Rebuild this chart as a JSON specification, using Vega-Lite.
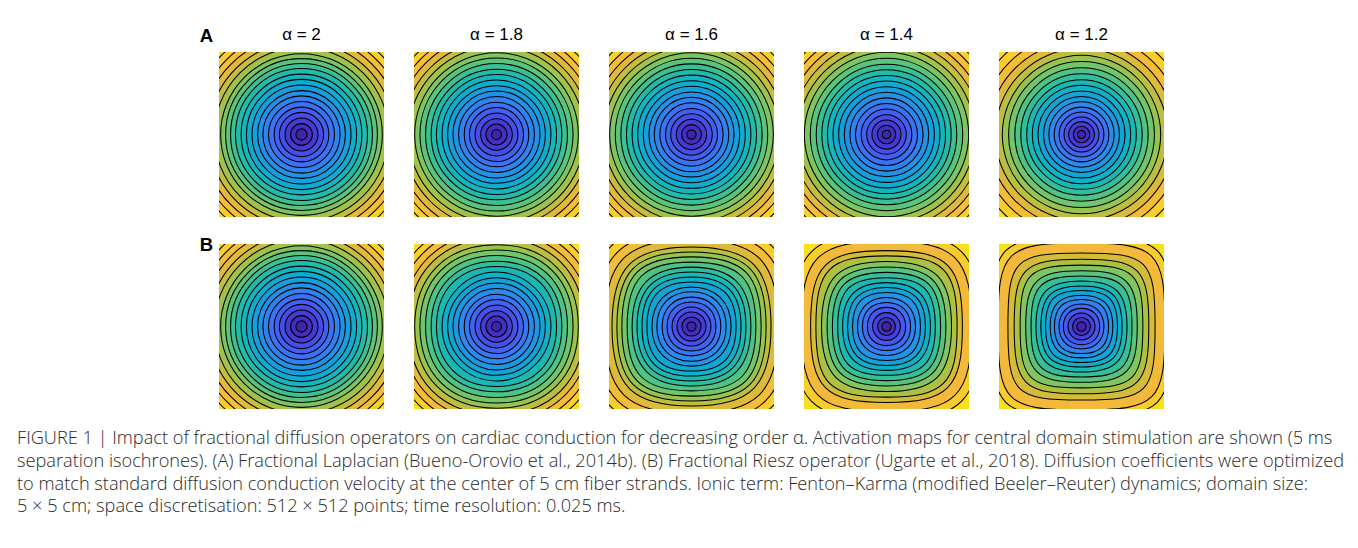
{
"$schema":"https://vega.github.io/schema/vega-lite/v6.json",
"padding":{"left":17,"top":25,"right":10,"bottom":10},
"background":"white",
"title":{"text":["FIGURE 1 | Impact of fractional diffusion operators on cardiac conduction for decreasing order α. Activation maps for central domain stimulation are shown (5 ms","separation isochrones). (A) Fractional Laplacian (Bueno-Orovio et al., 2014b). (B) Fractional Riesz operator (Ugarte et al., 2018). Diffusion coefficients were optimized","to match standard diffusion conduction velocity at the center of 5 cm fiber strands. Ionic term: Fenton–Karma (modified Beeler–Reuter) dynamics; domain size:","5 × 5 cm; space discretisation: 512 × 512 points; time resolution: 0.025 ms."],"orient":"bottom","anchor":"start","frame":"group","dx":-202,"offset":21,"font":"Open Sans","fontSize":18.2,"fontWeight":300,"color":"#2a2a2a","lineHeight":22.8},
"data":{"values":[
{"g":"A","alpha":2,"p":"2","r":1.7,"f":0},{"g":"A","alpha":2,"p":"2","r":3.3,"f":0.05},{"g":"A","alpha":2,"p":"2","r":5.0,"f":0.1},{"g":"A","alpha":2,"p":"2","r":6.7,"f":0.15},{"g":"A","alpha":2,"p":"2","r":8.3,"f":0.2},{"g":"A","alpha":2,"p":"2","r":10.0,"f":0.25},{"g":"A","alpha":2,"p":"2","r":11.7,"f":0.3},{"g":"A","alpha":2,"p":"2","r":13.3,"f":0.35},{"g":"A","alpha":2,"p":"2","r":15.0,"f":0.4},{"g":"A","alpha":2,"p":"2","r":16.7,"f":0.45},{"g":"A","alpha":2,"p":"2","r":18.3,"f":0.5},{"g":"A","alpha":2,"p":"2","r":20.0,"f":0.55},{"g":"A","alpha":2,"p":"2","r":21.5,"f":0.6},{"g":"A","alpha":2,"p":"2","r":23.0,"f":0.65},{"g":"A","alpha":2,"p":"2","r":24.5,"f":0.7},{"g":"A","alpha":2,"p":"2","r":26.4,"f":0.75},{"g":"A","alpha":2,"p":"2","r":28.2,"f":0.8},{"g":"A","alpha":2,"p":"2","r":30.2,"f":0.85},{"g":"A","alpha":2,"p":"2","r":32.1,"f":0.9},{"g":"A","alpha":2,"p":"2","r":34.1,"f":0.95},{"g":"A","alpha":2,"p":"2","r":39.4,"f":1},
{"g":"A","alpha":1.8,"p":"2","r":1.5,"f":0},{"g":"A","alpha":1.8,"p":"2","r":3.2,"f":0.05},{"g":"A","alpha":1.8,"p":"2","r":4.8,"f":0.1},{"g":"A","alpha":1.8,"p":"2","r":6.5,"f":0.15},{"g":"A","alpha":1.8,"p":"2","r":8.2,"f":0.2},{"g":"A","alpha":1.8,"p":"2","r":9.8,"f":0.25},{"g":"A","alpha":1.8,"p":"2","r":11.5,"f":0.3},{"g":"A","alpha":1.8,"p":"2","r":13.2,"f":0.35},{"g":"A","alpha":1.8,"p":"2","r":14.8,"f":0.4},{"g":"A","alpha":1.8,"p":"2","r":16.5,"f":0.45},{"g":"A","alpha":1.8,"p":"2","r":18.2,"f":0.5},{"g":"A","alpha":1.8,"p":"2","r":19.8,"f":0.55},{"g":"A","alpha":1.8,"p":"2","r":21.5,"f":0.6},{"g":"A","alpha":1.8,"p":"2","r":23.2,"f":0.65},{"g":"A","alpha":1.8,"p":"2","r":24.8,"f":0.7},{"g":"A","alpha":1.8,"p":"2","r":26.7,"f":0.75},{"g":"A","alpha":1.8,"p":"2","r":28.5,"f":0.8},{"g":"A","alpha":1.8,"p":"2","r":30.5,"f":0.85},{"g":"A","alpha":1.8,"p":"2","r":32.4,"f":0.9},{"g":"A","alpha":1.8,"p":"2","r":34.4,"f":0.95},{"g":"A","alpha":1.8,"p":"2","r":39.4,"f":1},
{"g":"A","alpha":1.6,"p":"2","r":1.4,"f":0},{"g":"A","alpha":1.6,"p":"2","r":3.0,"f":0.05},{"g":"A","alpha":1.6,"p":"2","r":4.6,"f":0.1},{"g":"A","alpha":1.6,"p":"2","r":6.3,"f":0.15},{"g":"A","alpha":1.6,"p":"2","r":7.9,"f":0.2},{"g":"A","alpha":1.6,"p":"2","r":9.6,"f":0.25},{"g":"A","alpha":1.6,"p":"2","r":11.3,"f":0.3},{"g":"A","alpha":1.6,"p":"2","r":12.9,"f":0.35},{"g":"A","alpha":1.6,"p":"2","r":14.6,"f":0.4},{"g":"A","alpha":1.6,"p":"2","r":16.3,"f":0.45},{"g":"A","alpha":1.6,"p":"2","r":18.0,"f":0.5},{"g":"A","alpha":1.6,"p":"2","r":19.7,"f":0.55},{"g":"A","alpha":1.6,"p":"2","r":21.4,"f":0.6},{"g":"A","alpha":1.6,"p":"2","r":23.1,"f":0.65},{"g":"A","alpha":1.6,"p":"2","r":24.8,"f":0.7},{"g":"A","alpha":1.6,"p":"2","r":26.6,"f":0.75},{"g":"A","alpha":1.6,"p":"2","r":28.5,"f":0.8},{"g":"A","alpha":1.6,"p":"2","r":30.5,"f":0.85},{"g":"A","alpha":1.6,"p":"2","r":32.5,"f":0.9},{"g":"A","alpha":1.6,"p":"2","r":34.6,"f":0.95},{"g":"A","alpha":1.6,"p":"2","r":39.4,"f":1},
{"g":"A","alpha":1.4,"p":"2","r":1.3,"f":0},{"g":"A","alpha":1.4,"p":"2","r":2.8,"f":0.05},{"g":"A","alpha":1.4,"p":"2","r":4.4,"f":0.1},{"g":"A","alpha":1.4,"p":"2","r":6.0,"f":0.15},{"g":"A","alpha":1.4,"p":"2","r":7.7,"f":0.2},{"g":"A","alpha":1.4,"p":"2","r":9.4,"f":0.25},{"g":"A","alpha":1.4,"p":"2","r":11.1,"f":0.3},{"g":"A","alpha":1.4,"p":"2","r":12.8,"f":0.35},{"g":"A","alpha":1.4,"p":"2","r":14.5,"f":0.4},{"g":"A","alpha":1.4,"p":"2","r":16.2,"f":0.45},{"g":"A","alpha":1.4,"p":"2","r":17.9,"f":0.5},{"g":"A","alpha":1.4,"p":"2","r":19.6,"f":0.55},{"g":"A","alpha":1.4,"p":"2","r":21.3,"f":0.6},{"g":"A","alpha":1.4,"p":"2","r":23.1,"f":0.65},{"g":"A","alpha":1.4,"p":"2","r":24.9,"f":0.7},{"g":"A","alpha":1.4,"p":"2","r":26.8,"f":0.75},{"g":"A","alpha":1.4,"p":"2","r":28.8,"f":0.8},{"g":"A","alpha":1.4,"p":"2","r":30.8,"f":0.85},{"g":"A","alpha":1.4,"p":"2","r":32.9,"f":0.9},{"g":"A","alpha":1.4,"p":"2","r":35.0,"f":0.95},{"g":"A","alpha":1.4,"p":"2","r":39.4,"f":1},
{"g":"A","alpha":1.2,"p":"2","r":1.2,"f":0},{"g":"A","alpha":1.2,"p":"2","r":2.5,"f":0.053},{"g":"A","alpha":1.2,"p":"2","r":3.9,"f":0.105},{"g":"A","alpha":1.2,"p":"2","r":5.3,"f":0.158},{"g":"A","alpha":1.2,"p":"2","r":6.8,"f":0.211},{"g":"A","alpha":1.2,"p":"2","r":8.3,"f":0.263},{"g":"A","alpha":1.2,"p":"2","r":9.9,"f":0.316},{"g":"A","alpha":1.2,"p":"2","r":11.5,"f":0.368},{"g":"A","alpha":1.2,"p":"2","r":13.2,"f":0.421},{"g":"A","alpha":1.2,"p":"2","r":14.9,"f":0.474},{"g":"A","alpha":1.2,"p":"2","r":16.6,"f":0.526},{"g":"A","alpha":1.2,"p":"2","r":18.4,"f":0.579},{"g":"A","alpha":1.2,"p":"2","r":20.2,"f":0.632},{"g":"A","alpha":1.2,"p":"2","r":22.1,"f":0.684},{"g":"A","alpha":1.2,"p":"2","r":24.0,"f":0.737},{"g":"A","alpha":1.2,"p":"2","r":26.1,"f":0.789},{"g":"A","alpha":1.2,"p":"2","r":28.4,"f":0.842},{"g":"A","alpha":1.2,"p":"2","r":30.9,"f":0.895},{"g":"A","alpha":1.2,"p":"2","r":33.6,"f":0.947},{"g":"A","alpha":1.2,"p":"2","r":39.4,"f":1},
{"g":"B","alpha":2,"p":"2","r":1.7,"f":0},{"g":"B","alpha":2,"p":"2","r":3.3,"f":0.05},{"g":"B","alpha":2,"p":"2","r":5.0,"f":0.1},{"g":"B","alpha":2,"p":"2","r":6.7,"f":0.15},{"g":"B","alpha":2,"p":"2","r":8.3,"f":0.2},{"g":"B","alpha":2,"p":"2","r":10.0,"f":0.25},{"g":"B","alpha":2,"p":"2","r":11.7,"f":0.3},{"g":"B","alpha":2,"p":"2","r":13.3,"f":0.35},{"g":"B","alpha":2,"p":"2","r":15.0,"f":0.4},{"g":"B","alpha":2,"p":"2","r":16.7,"f":0.45},{"g":"B","alpha":2,"p":"2","r":18.3,"f":0.5},{"g":"B","alpha":2,"p":"2","r":20.0,"f":0.55},{"g":"B","alpha":2,"p":"2","r":21.5,"f":0.6},{"g":"B","alpha":2,"p":"2","r":23.0,"f":0.65},{"g":"B","alpha":2,"p":"2","r":24.5,"f":0.7},{"g":"B","alpha":2,"p":"2","r":26.4,"f":0.75},{"g":"B","alpha":2,"p":"2","r":28.2,"f":0.8},{"g":"B","alpha":2,"p":"2","r":30.2,"f":0.85},{"g":"B","alpha":2,"p":"2","r":32.1,"f":0.9},{"g":"B","alpha":2,"p":"2","r":34.1,"f":0.95},{"g":"B","alpha":2,"p":"2","r":39.4,"f":1},
{"g":"B","alpha":1.8,"p":"2","r":1.5,"f":0},{"g":"B","alpha":1.8,"p":"2","r":3.2,"f":0.053},{"g":"B","alpha":1.8,"p":"2","r":4.8,"f":0.105},{"g":"B","alpha":1.8,"p":"2","r":6.5,"f":0.158},{"g":"B","alpha":1.8,"p":"2","r":8.2,"f":0.211},{"g":"B","alpha":1.8,"p":"2","r":9.8,"f":0.263},{"g":"B","alpha":1.8,"p":"2","r":11.5,"f":0.316},{"g":"B","alpha":1.8,"p":"2","r":13.2,"f":0.368},{"g":"B","alpha":1.8,"p":"2","r":14.8,"f":0.421},{"g":"B","alpha":1.8,"p":"2","r":16.5,"f":0.474},{"g":"B","alpha":1.8,"p":"2.2","r":18.2,"f":0.526},{"g":"B","alpha":1.8,"p":"2.2","r":19.8,"f":0.579},{"g":"B","alpha":1.8,"p":"2.2","r":21.5,"f":0.632},{"g":"B","alpha":1.8,"p":"2.2","r":23.2,"f":0.684},{"g":"B","alpha":1.8,"p":"2.2","r":24.8,"f":0.737},{"g":"B","alpha":1.8,"p":"2.2","r":26.7,"f":0.789},{"g":"B","alpha":1.8,"p":"2.2","r":28.5,"f":0.842},{"g":"B","alpha":1.8,"p":"2.2","r":30.5,"f":0.895},{"g":"B","alpha":1.8,"p":"2.2","r":32.4,"f":0.947},{"g":"B","alpha":1.8,"p":"2.2","r":39.4,"f":1},
{"g":"B","alpha":1.6,"p":"2","r":1.4,"f":0},{"g":"B","alpha":1.6,"p":"2","r":2.9,"f":0.053},{"g":"B","alpha":1.6,"p":"2","r":4.4,"f":0.105},{"g":"B","alpha":1.6,"p":"2","r":5.9,"f":0.158},{"g":"B","alpha":1.6,"p":"2.2","r":7.4,"f":0.211},{"g":"B","alpha":1.6,"p":"2.2","r":8.9,"f":0.263},{"g":"B","alpha":1.6,"p":"2.2","r":10.5,"f":0.316},{"g":"B","alpha":1.6,"p":"2.2","r":12.0,"f":0.368},{"g":"B","alpha":1.6,"p":"2.5","r":13.5,"f":0.421},{"g":"B","alpha":1.6,"p":"2.5","r":15.0,"f":0.474},{"g":"B","alpha":1.6,"p":"2.5","r":16.5,"f":0.526},{"g":"B","alpha":1.6,"p":"2.5","r":18.0,"f":0.579},{"g":"B","alpha":1.6,"p":"2.8","r":19.5,"f":0.632},{"g":"B","alpha":1.6,"p":"2.8","r":21.1,"f":0.684},{"g":"B","alpha":1.6,"p":"2.8","r":22.6,"f":0.737},{"g":"B","alpha":1.6,"p":"2.8","r":24.1,"f":0.789},{"g":"B","alpha":1.6,"p":"2.8","r":26.4,"f":0.842},{"g":"B","alpha":1.6,"p":"2.8","r":28.8,"f":0.895},{"g":"B","alpha":1.6,"p":"2.8","r":31.2,"f":0.947},{"g":"B","alpha":1.6,"p":"2.8","r":39.4,"f":1},
{"g":"B","alpha":1.4,"p":"2","r":1.4,"f":0},{"g":"B","alpha":1.4,"p":"2","r":2.7,"f":0.059},{"g":"B","alpha":1.4,"p":"2","r":4.2,"f":0.118},{"g":"B","alpha":1.4,"p":"2.2","r":5.8,"f":0.176},{"g":"B","alpha":1.4,"p":"2.2","r":7.3,"f":0.235},{"g":"B","alpha":1.4,"p":"2.2","r":8.8,"f":0.294},{"g":"B","alpha":1.4,"p":"2.5","r":10.3,"f":0.353},{"g":"B","alpha":1.4,"p":"2.5","r":11.8,"f":0.412},{"g":"B","alpha":1.4,"p":"2.5","r":13.3,"f":0.471},{"g":"B","alpha":1.4,"p":"2.8","r":14.8,"f":0.529},{"g":"B","alpha":1.4,"p":"2.8","r":16.4,"f":0.588},{"g":"B","alpha":1.4,"p":"2.8","r":18.0,"f":0.647},{"g":"B","alpha":1.4,"p":"2.8","r":19.7,"f":0.706},{"g":"B","alpha":1.4,"p":"3.2","r":21.4,"f":0.765},{"g":"B","alpha":1.4,"p":"3.2","r":23.0,"f":0.824},{"g":"B","alpha":1.4,"p":"3.2","r":25.8,"f":0.882},{"g":"B","alpha":1.4,"p":"3.2","r":28.2,"f":0.941},{"g":"B","alpha":1.4,"p":"3.2","r":39.4,"f":1},
{"g":"B","alpha":1.2,"p":"2","r":1.4,"f":0},{"g":"B","alpha":1.2,"p":"2","r":2.7,"f":0.059},{"g":"B","alpha":1.2,"p":"2","r":4.1,"f":0.118},{"g":"B","alpha":1.2,"p":"2.2","r":5.5,"f":0.176},{"g":"B","alpha":1.2,"p":"2.2","r":6.8,"f":0.235},{"g":"B","alpha":1.2,"p":"2.5","r":8.2,"f":0.294},{"g":"B","alpha":1.2,"p":"2.5","r":9.5,"f":0.353},{"g":"B","alpha":1.2,"p":"2.8","r":10.9,"f":0.412},{"g":"B","alpha":1.2,"p":"2.8","r":12.3,"f":0.471},{"g":"B","alpha":1.2,"p":"2.8","r":13.8,"f":0.529},{"g":"B","alpha":1.2,"p":"3.2","r":15.3,"f":0.588},{"g":"B","alpha":1.2,"p":"3.2","r":16.9,"f":0.647},{"g":"B","alpha":1.2,"p":"3.6","r":18.6,"f":0.706},{"g":"B","alpha":1.2,"p":"3.6","r":20.4,"f":0.765},{"g":"B","alpha":1.2,"p":"4","r":22.3,"f":0.824},{"g":"B","alpha":1.2,"p":"4","r":25.3,"f":0.882},{"g":"B","alpha":1.2,"p":"4","r":27.3,"f":0.941},{"g":"B","alpha":1.2,"p":"4","r":39.4,"f":1}
]},
"vconcat":[
{
 "transform":[{"filter":"datum.g == 'A'"}],
 "title":{"text":"A","orient":"top","anchor":"start","frame":"group","align":"right","baseline":"alphabetic","dx":-6,"dy":35,"offset":0,"font":"Liberation Sans","fontSize":18.5,"fontWeight":"bold","color":"black"},
 "facet":{"column":{"field":"alpha","type":"ordinal","sort":"descending","header":{"title":null,"labelFont":"Liberation Sans","labelFontSize":17,"labelColor":"black","labelPadding":8.5,"labelExpr":"'α = ' + datum.value"}}},
 "spacing":30,
 "spec":{
  "width":165,"height":165,
  "mark":{"type":"point","filled":true,"clip":true,"stroke":"black","strokeWidth":1.05,"opacity":1,"strokeOpacity":1},
  "encoding":{
   "x":{"datum":25,"type":"quantitative","scale":{"domain":[0,50]},"axis":null},
   "y":{"datum":25,"type":"quantitative","scale":{"domain":[0,50]},"axis":null},
   "size":{"field":"r","type":"quantitative","scale":{"type":"pow","exponent":2,"domain":[0,50],"range":[0,108900]},"legend":null},
   "shape":{"field":"p","type":"nominal","scale":{"domain":["2","2.2","2.5","2.8","3.2","3.6","4"],"range":["circle","M1,0C1,0.613 0.613,1 0,1C-0.613,1 -1,0.613 -1,0C-1,-0.613 -0.613,-1 0,-1C0.613,-1 1,-0.613 1,0Z","M1,0C1,0.688 0.688,1 0,1C-0.688,1 -1,0.688 -1,0C-1,-0.688 -0.688,-1 0,-1C0.688,-1 1,-0.688 1,0Z","M1,0C1,0.749 0.749,1 0,1C-0.749,1 -1,0.749 -1,0C-1,-0.749 -0.749,-1 0,-1C0.749,-1 1,-0.749 1,0Z","M1,0C1,0.814 0.814,1 0,1C-0.814,1 -1,0.814 -1,0C-1,-0.814 -0.814,-1 0,-1C0.814,-1 1,-0.814 1,0Z","M1,0C1,0.866 0.866,1 0,1C-0.866,1 -1,0.866 -1,0C-1,-0.866 -0.866,-1 0,-1C0.866,-1 1,-0.866 1,0Z","M1,0C1,0.909 0.909,1 0,1C-0.909,1 -1,0.909 -1,0C-1,-0.909 -0.909,-1 0,-1C0.909,-1 1,-0.909 1,0Z"]},"legend":null},
   "color":{"field":"f","type":"quantitative","scale":{"type":"linear","interpolate":"rgb","domain":[0,0.08,0.16,0.24,0.32,0.4,0.48,0.56,0.63,0.7,0.76,0.82,0.88,0.94,1],"range":["#3e26a8","#4434cd","#4751ea","#3d6ef6","#2b8aec","#159fdc","#0db2c6","#25bca5","#4cc386","#7cc562","#a8c143","#d2bb3a","#f2b83b","#f9cc2d","#f8e11c"]},"legend":null},
   "order":{"field":"r","type":"quantitative","sort":"descending"}
  }
 }
},
{
 "transform":[{"filter":"datum.g == 'B'"}],
 "title":{"text":"B","orient":"top","anchor":"start","frame":"group","align":"right","baseline":"alphabetic","dx":-6,"dy":25,"offset":0,"font":"Liberation Sans","fontSize":18.5,"fontWeight":"bold","color":"black"},
 "facet":{"column":{"field":"alpha","type":"ordinal","sort":"descending","header":{"title":null,"labels":false}}},
 "spacing":30,
 "spec":{
  "width":165,"height":165,
  "mark":{"type":"point","filled":true,"clip":true,"stroke":"black","strokeWidth":1.05,"opacity":1,"strokeOpacity":1},
  "encoding":{
   "x":{"datum":25,"type":"quantitative","scale":{"domain":[0,50]},"axis":null},
   "y":{"datum":25,"type":"quantitative","scale":{"domain":[0,50]},"axis":null},
   "size":{"field":"r","type":"quantitative","scale":{"type":"pow","exponent":2,"domain":[0,50],"range":[0,108900]},"legend":null},
   "shape":{"field":"p","type":"nominal","scale":{"domain":["2","2.2","2.5","2.8","3.2","3.6","4"],"range":["circle","M1,0C1,0.613 0.613,1 0,1C-0.613,1 -1,0.613 -1,0C-1,-0.613 -0.613,-1 0,-1C0.613,-1 1,-0.613 1,0Z","M1,0C1,0.688 0.688,1 0,1C-0.688,1 -1,0.688 -1,0C-1,-0.688 -0.688,-1 0,-1C0.688,-1 1,-0.688 1,0Z","M1,0C1,0.749 0.749,1 0,1C-0.749,1 -1,0.749 -1,0C-1,-0.749 -0.749,-1 0,-1C0.749,-1 1,-0.749 1,0Z","M1,0C1,0.814 0.814,1 0,1C-0.814,1 -1,0.814 -1,0C-1,-0.814 -0.814,-1 0,-1C0.814,-1 1,-0.814 1,0Z","M1,0C1,0.866 0.866,1 0,1C-0.866,1 -1,0.866 -1,0C-1,-0.866 -0.866,-1 0,-1C0.866,-1 1,-0.866 1,0Z","M1,0C1,0.909 0.909,1 0,1C-0.909,1 -1,0.909 -1,0C-1,-0.909 -0.909,-1 0,-1C0.909,-1 1,-0.909 1,0Z"]},"legend":null},
   "color":{"field":"f","type":"quantitative","scale":{"type":"linear","interpolate":"rgb","domain":[0,0.08,0.16,0.24,0.32,0.4,0.48,0.56,0.63,0.7,0.76,0.82,0.88,0.94,1],"range":["#3e26a8","#4434cd","#4751ea","#3d6ef6","#2b8aec","#159fdc","#0db2c6","#25bca5","#4cc386","#7cc562","#a8c143","#d2bb3a","#f2b83b","#f9cc2d","#f8e11c"]},"legend":null},
   "order":{"field":"r","type":"quantitative","sort":"descending"}
  }
 }
}
],
"spacing":18,
"config":{"view":{"stroke":null},"font":"Liberation Sans"}
}
